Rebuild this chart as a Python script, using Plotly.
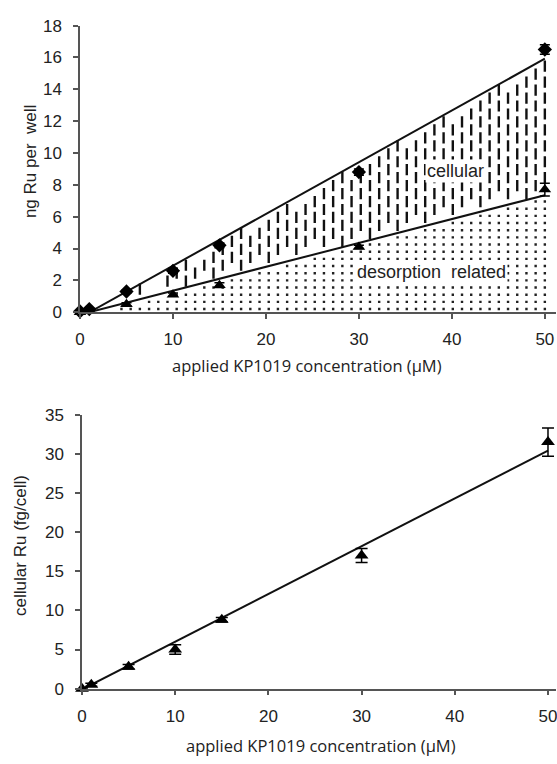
import numpy as np
import plotly.graph_objects as go

# ---------------- data ----------------
conc = [0, 1, 5, 10, 15, 30, 50]
total_ru = [0.05, 0.2, 1.3, 2.6, 4.2, 8.8, 16.5]
total_err = [0.05, 0.05, 0.1, 0.15, 0.15, 0.2, 0.3]
desorb_ru = [0.0, 0.1, 0.5, 1.1, 1.7, 4.1, 7.7]
desorb_err = [0.05, 0.05, 0.1, 0.1, 0.15, 0.1, 0.4]
cell_ru = [0.0, 0.5, 2.8, 5.0, 8.8, 17.0, 31.5]
cell_err = [0.1, 0.2, 0.3, 0.6, 0.3, 0.9, 1.8]

# fitted lines: slope, intercept, x-extent
fit_total = (0.325, -0.33)
fit_desorb = (0.15, -0.15)
fit_cell = (0.61, -0.1)
fit_x_top = [1, 50]
fit_x_bottom = [0, 50]

x_ticks = [0, 10, 20, 30, 40, 50]
y_ticks_top = list(range(0, 19, 2))
y_ticks_bottom = list(range(0, 36, 5))

AX = "#555555"
TXT = "#222222"
TICKFONT = dict(family="Liberation Sans, Arial", size=17, color=TXT)


def line_y(fit, xs):
    return [fit[0] * x + fit[1] for x in xs]


fig = go.Figure()

# ---- texture for areas (computed from the fit lines) ----
col_step = 0.99
cols = np.arange(50, 1.0, -col_step)
dash_x, dash_y, dot_x, dot_y = [], [], [], []
for i, cx in enumerate(cols):
    lo = fit_desorb[0] * cx + fit_desorb[1]
    hi = fit_total[0] * cx + fit_total[1]
    off = 0.0 if i % 2 == 0 else 0.5
    ys = np.arange(0.45 + off, 18, 1.0)
    for yy in ys:
        if lo + 0.35 < yy < hi - 0.3:
            dash_x.append(cx)
            dash_y.append(yy)
    ys2 = np.arange(0.2, 18, 0.45)
    for yy in ys2:
        if yy < lo - 0.2:
            dot_x.append(cx)
            dot_y.append(yy)

fig.add_trace(go.Scatter(x=dash_x, y=dash_y, mode="markers", xaxis="x", yaxis="y",
                         marker=dict(symbol="line-ns", size=8, line=dict(width=2.4, color="#111")),
                         hoverinfo="skip", showlegend=False))
fig.add_trace(go.Scatter(x=dot_x, y=dot_y, mode="markers", xaxis="x", yaxis="y",
                         marker=dict(symbol="square", size=2.4, color="#222", line=dict(width=0)),
                         hoverinfo="skip", showlegend=False))

# ---- fit lines top ----
fig.add_trace(go.Scatter(x=fit_x_top, y=line_y(fit_total, fit_x_top), mode="lines",
                         line=dict(color="#111", width=2), xaxis="x", yaxis="y", showlegend=False))
fig.add_trace(go.Scatter(x=fit_x_top, y=line_y(fit_desorb, fit_x_top), mode="lines",
                         line=dict(color="#111", width=2), xaxis="x", yaxis="y", showlegend=False))

# ---- data points top ----
fig.add_trace(go.Scatter(x=conc, y=total_ru, mode="markers", xaxis="x", yaxis="y",
                         marker=dict(symbol="diamond", size=11, color="#000"),
                         error_y=dict(type="data", array=total_err, color="#000", thickness=1.5, width=5),
                         cliponaxis=False, showlegend=False))
fig.add_trace(go.Scatter(x=conc, y=desorb_ru, mode="markers", xaxis="x", yaxis="y",
                         marker=dict(symbol="triangle-up", size=11, color="#000"),
                         error_y=dict(type="data", array=desorb_err, color="#000", thickness=1.5, width=5),
                         cliponaxis=False, showlegend=False))

# ---- bottom ----
fig.add_trace(go.Scatter(x=fit_x_bottom, y=line_y(fit_cell, fit_x_bottom), mode="lines",
                         line=dict(color="#111", width=2), xaxis="x2", yaxis="y2", showlegend=False))
fig.add_trace(go.Scatter(x=conc, y=cell_ru, mode="markers", xaxis="x2", yaxis="y2",
                         marker=dict(symbol="triangle-up", size=12, color="#000"),
                         error_y=dict(type="data", array=cell_err, color="#000", thickness=1.5, width=6),
                         cliponaxis=False, showlegend=False))

axis_common = dict(showgrid=False, zeroline=False, showline=True, linecolor=AX, linewidth=1.5,
                   ticks="outside", tickcolor=AX, tickwidth=1.5, ticklen=5, tickfont=TICKFONT,
                   ticklabeloverflow="allow")

fig.update_layout(
    width=557, height=764,
    margin=dict(l=80, r=0, t=0, b=0),
    paper_bgcolor="white", plot_bgcolor="white",
    xaxis=dict(domain=[0, 1], range=[0, 51.2], tickvals=x_ticks, anchor="y",
               ticklabelstandoff=6, **axis_common),
    yaxis=dict(domain=[0.593, 0.9777], range=[0, 18], tickvals=y_ticks_top, anchor="x",
               ticklabelstandoff=8, **axis_common),
    xaxis2=dict(domain=[0.0042, 1], range=[0, 50.86], tickvals=x_ticks, anchor="y2",
                ticklabelstandoff=6, **axis_common),
    yaxis2=dict(domain=[0.0877, 0.4555], range=[0, 35], tickvals=y_ticks_bottom, anchor="x2",
                ticklabelstandoff=8, **axis_common),
)

ann_font = dict(family="Liberation Sans, Arial", size=18, color=TXT)
ytitle_font = dict(family="Liberation Sans, Arial", size=17, color=TXT)
title_font = dict(family="Open Sans", size=16.5, color=TXT)
fig.add_annotation(x=40.4, y=8.9, xref="x", yref="y", text="cellular", showarrow=False,
                   font=ann_font, bgcolor="white")
fig.add_annotation(x=37.8, y=2.55, xref="x", yref="y", text="desorption  related", showarrow=False,
                   font=ann_font, bgcolor="white")
fig.add_annotation(x=0.476, y=0.522, xref="paper", yref="paper", text="applied KP1019 concentration (µM)",
                   showarrow=False, font=title_font, xanchor="center", yanchor="middle")
fig.add_annotation(x=0.507, y=0.0118, xref="paper", yref="paper", text="applied KP1019 concentration (µM)",
                   showarrow=False, font=title_font, xanchor="center", yanchor="middle")
fig.add_annotation(x=-0.105, y=0.7945, xref="paper", yref="paper", text="ng Ru per  well", textangle=-90,
                   showarrow=False, font=ytitle_font, xanchor="center", yanchor="middle")
fig.add_annotation(x=-0.125, y=0.28, xref="paper", yref="paper", text="cellular Ru (fg/cell)", textangle=-90,
                   showarrow=False, font=ytitle_font, xanchor="center", yanchor="middle")

fig.write_html("out.html")
